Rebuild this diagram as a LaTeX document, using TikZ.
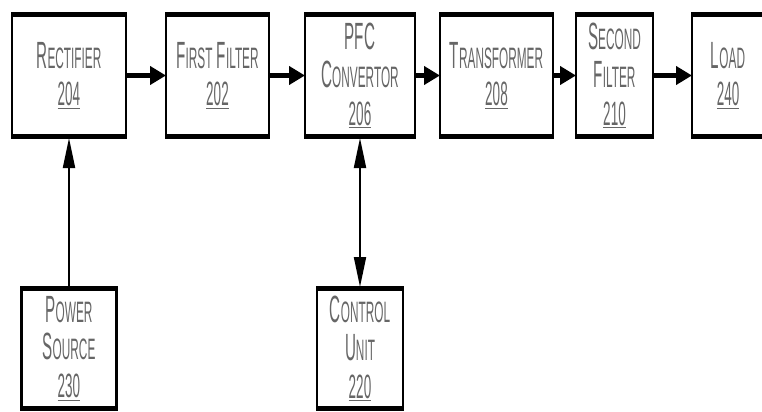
\documentclass[tikz,border=0pt]{standalone}
\usepackage{fontspec}
\newfontfamily\boxfont[FakeStretch=0.4]{Liberation Sans}
\usepackage{tikz}
\usetikzlibrary{positioning}
\usetikzlibrary{arrows.meta}

\newcommand{\capword}[2]{#1{\fontsize{21}{27}\selectfont #2}}
\newcommand{\refnum}[1]{{\fontsize{24}{27}\selectfont\underline{#1}}}

\begin{document}
\begin{tikzpicture}[
		block/.style = {draw, line width = 1.5pt, outer sep = 0pt, align = center, text = black!60,
			font = \boxfont\fontsize{27}{27}\selectfont, minimum height = 3.125cm,
			path picture = {\draw[line width = 5pt] (path picture bounding box.north west) -- (path picture bounding box.north east);
				\draw[line width = 5pt] (path picture bounding box.south west) -- (path picture bounding box.south east);}},
		flow/.style = {line width = 3pt, -{Triangle[length = 0.4cm, width = 0.45cm]}},
		link/.style = {line width = 1.4pt, -{Triangle[length = 0.75cm, width = 0.3cm]}},
		duplex/.style = {line width = 1.4pt, {Triangle[length = 0.75cm, width = 0.3cm]}-{Triangle[length = 0.75cm, width = 0.3cm]}}
	]
		\useasboundingbox (0,0) rectangle (19.05,-10.275);
		% top row
		\node[block, minimum width = 2.85cm] at (1.725,-1.8875) (rect) {\capword{R}{ECTIFIER}\\ \refnum{204}};
		\node[block, right = 1cm of rect, minimum width = 2.575cm] (ffilt) {\capword{F}{IRST} \capword{F}{ILTER}\\ \refnum{202}};
		\node[block, right = 0.9cm of ffilt, minimum width = 2.75cm] (pfc) {PFC\\ \capword{C}{ONVERTOR}\\ \refnum{206}};
		\node[block, right = 0.625cm of pfc, minimum width = 2.825cm] (xfmr) {\capword{T}{RANSFORMER}\\ \refnum{208}};
		\node[block, right = 0.575cm of xfmr, minimum width = 1.925cm] (sfilt) {\capword{S}{ECOND}\\ \capword{F}{ILTER}\\ \refnum{210}};
		\node[block, right = 0.975cm of sfilt, minimum width = 1.8cm] (load) {\capword{L}{OAD}\\ \refnum{240}};
		% bottom row
		\node[block, below = 3.725cm of rect, minimum width = 2.375cm, minimum height = 3.075cm] (psrc) {\capword{P}{OWER}\\ \capword{S}{OURCE}\\ \refnum{230}};
		\node[block, below = 3.725cm of pfc, minimum width = 2.15cm, minimum height = 3.075cm] (ctrl) {\capword{C}{ONTROL}\\ \capword{U}{NIT}\\ \refnum{220}};
		% connectors
		\draw[flow] (rect) -- (ffilt);
		\draw[flow] (ffilt) -- (pfc);
		\draw[flow] (pfc) -- (xfmr);
		\draw[flow] (xfmr) -- (sfilt);
		\draw[flow] (sfilt) -- (load);
		\draw[link] (psrc) -- (rect);
		\draw[duplex] (ctrl) -- (pfc);
	\end{tikzpicture}
\end{document}
